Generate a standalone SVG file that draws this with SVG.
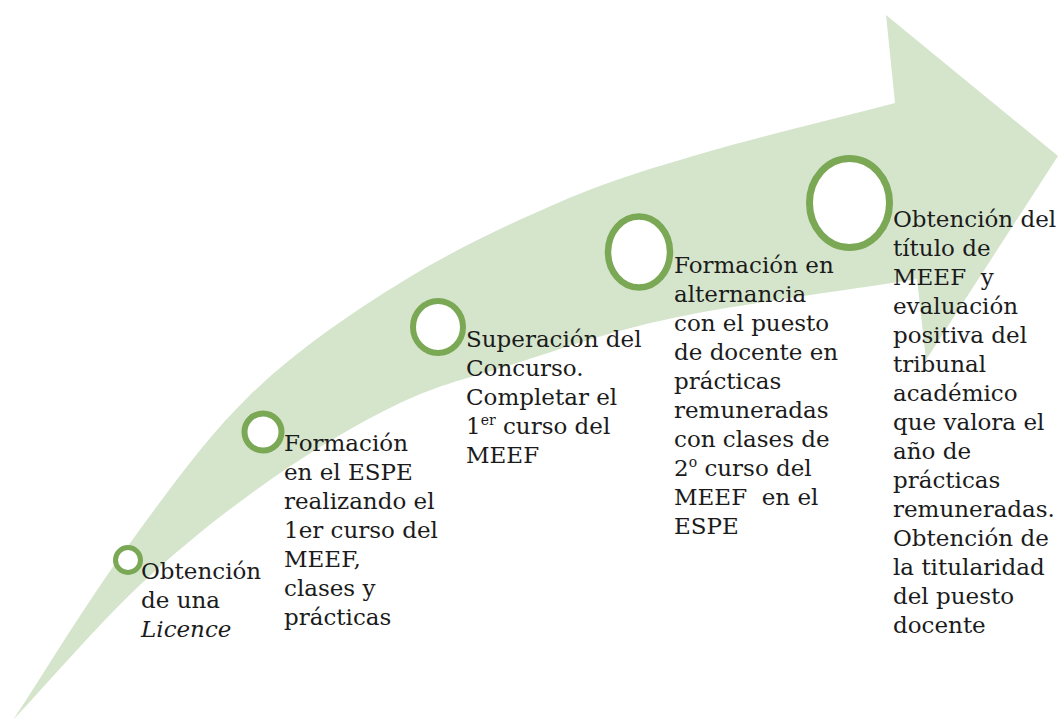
<svg xmlns="http://www.w3.org/2000/svg" width="1060" height="722" viewBox="0 0 1060 722">
<style>
.bg{fill:#ffffff}
.arrow{fill:#d5e5cc;stroke:none}
.ring{fill:#ffffff;stroke:#7aa854}
.lbl{font-family:"DejaVu Serif","Liberation Serif",serif;font-size:23px;fill:#1b1b1b}
.sup{font-size:14px}
</style>
<rect class="bg" x="0" y="0" width="1060" height="722"/>
<g id="arrow">
<path class="arrow" d="M13,720 C50.3,663.3 85.5,604.2 125,550 C164.5,495.8 204.2,439.5 250,395 C295.8,350.5 348.3,315.2 400,283 C451.7,250.8 510,223.5 560,202 C610,180.5 644.2,170.5 700,154 C755.8,137.5 830,120 895,103 L886,15 L1058,156 L926,360 L917,279 C835.7,292 739.7,304 673,318 C606.3,332 562.5,348.8 517,363 C471.5,377.2 441.2,383.5 400,403 C358.8,422.5 313.3,449.7 270,480 C226.7,510.3 182.8,545 140,585 C97.2,625 55.3,675 13,720 Z"/>
</g>
<g id="node1">
<circle class="ring" cx="128" cy="560" r="12.5" stroke-width="5"/>
<text class="lbl" x="141" y="579"><tspan x="141">Obtención</tspan><tspan x="141" dy="29">de una</tspan><tspan x="141" dy="29" font-style="italic">Licence</tspan></text>
</g>
<g id="node2">
<circle class="ring" cx="263" cy="432" r="18.5" stroke-width="6"/>
<text class="lbl" x="284" y="451"><tspan x="284">Formación</tspan><tspan x="284" dy="29">en el ESPE</tspan><tspan x="284" dy="29">realizando el</tspan><tspan x="284" dy="29">1er curso del</tspan><tspan x="284" dy="29">MEEF,</tspan><tspan x="284" dy="29">clases y</tspan><tspan x="284" dy="29">prácticas</tspan></text>
</g>
<g id="node3">
<ellipse class="ring" cx="438" cy="327" rx="25" ry="26" stroke-width="6"/>
<text class="lbl" x="466" y="347"><tspan x="466">Superación del</tspan><tspan x="466" dy="29">Concurso.</tspan><tspan x="466" dy="29">Completar el</tspan><tspan x="466" dy="29">1<tspan class="sup" dy="-9">er</tspan><tspan dy="9"> curso del</tspan></tspan><tspan x="466" dy="29">MEEF</tspan></text>
</g>
<g id="node4">
<ellipse class="ring" cx="639" cy="252" rx="31" ry="35.5" stroke-width="6.5"/>
<text class="lbl" x="674" y="273"><tspan x="674">Formación en</tspan><tspan x="674" dy="29">alternancia</tspan><tspan x="674" dy="29">con el puesto</tspan><tspan x="674" dy="29">de docente en</tspan><tspan x="674" dy="29">prácticas</tspan><tspan x="674" dy="29">remuneradas</tspan><tspan x="674" dy="29">con clases de</tspan><tspan x="674" dy="29">2<tspan class="sup" dy="-9">o</tspan><tspan dy="9"> curso del</tspan></tspan><tspan x="674" dy="29">MEEF&#160; en el</tspan><tspan x="674" dy="29">ESPE</tspan></text>
</g>
<g id="node5">
<ellipse class="ring" cx="849.5" cy="203" rx="40" ry="44.5" stroke-width="7"/>
<text class="lbl" x="893" y="227"><tspan x="893">Obtención del</tspan><tspan x="893" dy="29">título de</tspan><tspan x="893" dy="29">MEEF&#160; y</tspan><tspan x="893" dy="29">evaluación</tspan><tspan x="893" dy="29">positiva del</tspan><tspan x="893" dy="29">tribunal</tspan><tspan x="893" dy="29">académico</tspan><tspan x="893" dy="29">que valora el</tspan><tspan x="893" dy="29">año de</tspan><tspan x="893" dy="29">prácticas</tspan><tspan x="893" dy="29">remuneradas.</tspan><tspan x="893" dy="29">Obtención de</tspan><tspan x="893" dy="29">la titularidad</tspan><tspan x="893" dy="29">del puesto</tspan><tspan x="893" dy="29">docente</tspan></text>
</g>
<g id="connectors"></g>
</svg>
